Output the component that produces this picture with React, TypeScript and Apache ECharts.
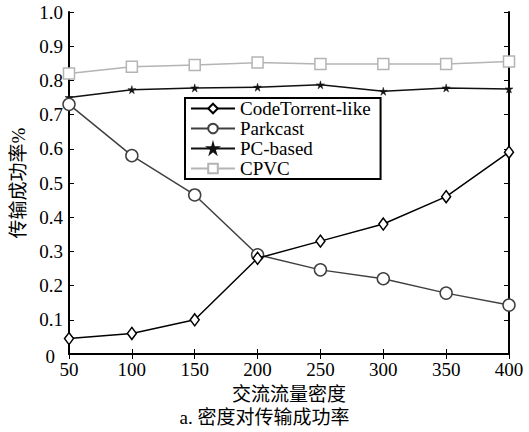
import React, { useEffect, useRef } from "react";
import * as echarts from "echarts";

const xValues = [50, 100, 150, 200, 250, 300, 350, 400];
const codeTorrent = [0.045, 0.06, 0.1, 0.28, 0.33, 0.38, 0.46, 0.59];
const parkcast = [0.73, 0.58, 0.465, 0.29, 0.246, 0.22, 0.178, 0.143];
const pcBased = [0.75, 0.773, 0.778, 0.78, 0.787, 0.768, 0.778, 0.775];
const cpvc = [0.82, 0.84, 0.845, 0.852, 0.848, 0.848, 0.848, 0.855];
const seriesNames = ["CodeTorrent-like", "Parkcast", "PC-based", "CPVC"];

const FONT = "'Liberation Serif', 'Times New Roman', 'Noto Sans CJK SC', serif";
const STAR =
  "path://M5,0 L6,3.8 L10,3.8 L6.8,6 L8,10 L5,7.5 L2,10 L3.2,6 L0,3.8 L4,3.8 Z";

export default function App() {
  const ref = useRef<HTMLDivElement>(null);
  useEffect(() => {
    document.body.style.margin = "0";
    if (!ref.current) return;
    const chart = echarts.init(ref.current, undefined, { renderer: "svg" });
    const pair = (arr: number[]) => xValues.map((x, i) => [x, arr[i]]);
    const axisLine = { show: true, lineStyle: { color: "#000", width: 2 } };
    const tick = { show: true, inside: true, length: 5, lineStyle: { color: "#000", width: 1 } };
    chart.setOption({
      animation: false,
      backgroundColor: "#fff",
      textStyle: { fontFamily: FONT },
      grid: { left: 69, right: 20, top: 12, bottom: 78 },
      legend: {
        show: true,
        data: seriesNames,
        orient: "vertical",
        left: 185,
        top: 98,
        itemWidth: 44,
        itemHeight: 12,
        itemGap: 1,
        padding: [1, 10, 1, 5],
        backgroundColor: "#fff",
        borderColor: "#000",
        borderWidth: 2,
        borderRadius: 0,
        textStyle: { fontFamily: FONT, fontSize: 19, lineHeight: 19, color: "#000" },
      },
      xAxis: [
        {
          type: "value",
          min: 50,
          max: 400,
          interval: 50,
          position: "bottom",
          name: "交流流量密度",
          nameLocation: "middle",
          nameGap: 31,
          nameTextStyle: { fontFamily: FONT, fontSize: 19, color: "#000" },
          axisLine,
          axisTick: tick,
          axisLabel: { fontFamily: FONT, fontSize: 19, color: "#000", margin: 6 },
          splitLine: { show: false },
        },
        {
          type: "value",
          min: 50,
          max: 400,
          interval: 50,
          position: "top",
          axisLine,
          axisTick: tick,
          axisLabel: { show: false },
          splitLine: { show: false },
        },
      ],
      yAxis: [
        {
          type: "value",
          min: 0,
          max: 1,
          interval: 0.1,
          position: "left",
          name: "传输成功率%",
          nameLocation: "middle",
          nameGap: 39,
          nameTextStyle: { fontFamily: FONT, fontSize: 19, color: "#000" },
          axisLine,
          axisTick: tick,
          axisLabel: {
            fontFamily: FONT,
            fontSize: 19,
            color: "#000",
            margin: 6,
            formatter: (v: number) => (v === 0 ? "{z|0}" : v.toFixed(1)),
            rich: {
              z: { fontFamily: FONT, fontSize: 19, color: "#000", padding: [5, 8, 0, 0] },
            },
          },
          splitLine: { show: false },
        },
        {
          type: "value",
          min: 0,
          max: 1,
          interval: 0.1,
          position: "right",
          axisLine,
          axisTick: tick,
          axisLabel: { show: false },
          splitLine: { show: false },
        },
      ],
      graphic: [
        {
          type: "text",
          left: "center",
          top: 408,
          style: {
            text: "a. 密度对传输成功率",
            fontFamily: FONT,
            fontSize: 19,
            fill: "#000",
          },
        },
      ],
      series: [
        {
          name: seriesNames[0],
          type: "line",
          data: pair(codeTorrent),
          symbol: "diamond",
          symbolSize: [9, 12],
          lineStyle: { color: "#000", width: 1.5 },
          itemStyle: { color: "#fff", borderColor: "#000", borderWidth: 1.5 },
          z: 4,
        },
        {
          name: seriesNames[1],
          type: "line",
          data: pair(parkcast),
          symbol: "circle",
          symbolSize: 12,
          lineStyle: { color: "#404040", width: 1.5 },
          itemStyle: { color: "#fff", borderColor: "#404040", borderWidth: 1.5 },
          z: 3,
        },
        {
          name: seriesNames[2],
          type: "line",
          data: pair(pcBased),
          symbol: STAR,
          symbolSize: 8,
          lineStyle: { color: "#111", width: 1.5 },
          itemStyle: { color: "#111", borderColor: "#111", borderWidth: 0.5 },
          z: 2,
        },
        {
          name: seriesNames[3],
          type: "line",
          data: pair(cpvc),
          symbol: "rect",
          symbolSize: 11,
          lineStyle: { color: "#b4b4b4", width: 1.5 },
          itemStyle: { color: "#fff", borderColor: "#b4b4b4", borderWidth: 1.5 },
          z: 1,
        },
      ],
    });
    return () => chart.dispose();
  }, []);
  return <div ref={ref} style={{ width: 529, height: 432 }} />;
}
